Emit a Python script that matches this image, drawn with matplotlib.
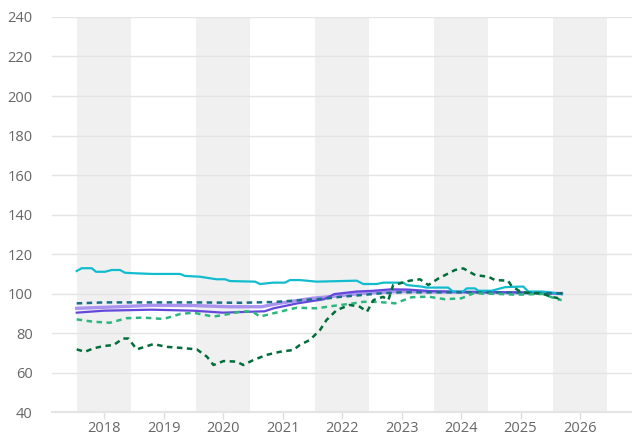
import matplotlib.pyplot as plt

# decimal-year positions and index values
cyan_x = [2017.541, 2017.625, 2017.793, 2017.866, 2018.017, 2018.129, 2018.269, 2018.353,
          2018.55, 2018.824, 2019.277, 2019.361, 2019.613, 2019.782, 2019.894, 2020.034,
          2020.118, 2020.538, 2020.622, 2020.845, 2021.042, 2021.126, 2021.294, 2021.575,
          2022.247, 2022.358, 2022.583, 2022.694, 2023.03, 2023.087, 2023.34, 2023.424,
          2023.782, 2023.866, 2024.034, 2024.096, 2024.235, 2024.291, 2024.516, 2024.739,
          2024.992, 2025.047, 2025.131, 2025.356, 2025.524, 2025.692]
cyan_y = [111.4, 112.8, 112.8, 111.0, 111.0, 111.9, 111.9, 110.5,
          110.2, 109.9, 109.9, 108.9, 108.5, 107.7, 107.2, 107.2,
          106.3, 106.0, 104.8, 105.5, 105.5, 106.8, 106.8, 106.0,
          106.5, 104.8, 104.8, 105.5, 105.5, 104.3, 103.5, 103.0,
          103.0, 101.0, 101.0, 102.6, 102.6, 101.4, 101.4, 103.2,
          103.5, 103.5, 101.0, 101.0, 100.5, 99.6]

purple_x = [2017.541, 2018.0, 2018.8, 2019.5, 2020.0, 2020.5, 2020.7, 2020.85, 2021.25,
            2021.7, 2021.87, 2022.25, 2022.53, 2022.82, 2023.1, 2023.5, 2024.0, 2025.0, 2025.692]
purple_y = [90.3, 91.3, 91.8, 91.3, 90.3, 90.8, 91.0, 92.5, 95.0,
            97.1, 99.7, 101.0, 101.4, 102.1, 102.0, 101.2, 100.8, 100.6, 100.0]

lavender_x = [2017.541, 2018.0, 2018.8, 2019.5, 2020.1, 2020.65, 2020.94, 2021.5, 2021.8,
              2022.35, 2022.95, 2023.5, 2024.5, 2025.692]
lavender_y = [92.5, 93.0, 94.0, 93.9, 93.3, 93.3, 95.0, 97.6, 98.4,
              100.1, 101.0, 100.8, 100.5, 100.0]

teal_x = [2017.541, 2018.0, 2019.5, 2020.3, 2020.85, 2021.3, 2021.75, 2021.97, 2022.25,
          2022.65, 2023.0, 2024.0, 2025.0, 2025.692]
teal_y = [95.0, 95.5, 95.5, 95.3, 95.7, 96.6, 97.5, 98.3, 99.0,
          100.1, 100.6, 100.6, 100.4, 100.0]

lgreen_x = [2017.541, 2017.82, 2018.10, 2018.38, 2018.66, 2019.0, 2019.28, 2019.50, 2019.84,
            2020.17, 2020.31, 2020.50, 2020.62, 2020.85, 2021.07, 2021.24, 2021.57, 2021.85,
            2022.19, 2022.36, 2022.53, 2022.81, 2022.89, 2023.17, 2023.45, 2023.73, 2024.01,
            2024.21, 2024.60, 2024.94, 2025.38, 2025.61, 2025.692]
lgreen_y = [86.9, 85.7, 85.2, 87.5, 87.8, 87.1, 89.6, 90.3, 88.3,
            90.0, 91.0, 90.8, 88.3, 90.0, 91.6, 92.8, 92.5, 93.7,
            95.0, 95.8, 95.8, 95.3, 95.0, 98.1, 98.4, 97.1, 97.6,
            100.1, 99.8, 99.4, 99.8, 97.1, 96.7]

dgreen_x = [2017.541, 2017.68, 2017.82, 2017.99, 2018.16, 2018.32, 2018.41, 2018.55, 2018.83,
            2019.05, 2019.28, 2019.56, 2019.73, 2019.84, 2020.01, 2020.23, 2020.34, 2020.51,
            2020.73, 2020.96, 2021.18, 2021.29, 2021.46, 2021.63, 2021.74, 2021.91, 2022.13,
            2022.30, 2022.42, 2022.53, 2022.69, 2022.78, 2022.86, 2022.97, 2023.14, 2023.31,
            2023.45, 2023.62, 2023.90, 2024.04, 2024.24, 2024.46, 2024.57, 2024.79, 2024.85,
            2025.02, 2025.36, 2025.52, 2025.64, 2025.692]
dgreen_y = [71.7, 70.5, 72.2, 73.4, 73.9, 77.2, 77.2, 71.7, 74.4,
            73.0, 72.5, 71.7, 68.0, 63.8, 65.8, 65.5, 63.8, 66.3,
            68.9, 70.5, 71.4, 73.9, 76.5, 81.5, 86.6, 91.6, 94.2,
            93.3, 90.8, 96.7, 98.3, 96.7, 104.3, 105.1, 106.5, 107.2,
            104.3, 107.6, 111.9, 112.7, 109.3, 108.5, 106.8, 106.5, 103.8,
            100.5, 100.0, 98.3, 97.6, 100.5]

years = [2018, 2019, 2020, 2021, 2022, 2023, 2024, 2025, 2026]
shaded_years = [2018, 2020, 2022, 2024, 2026]

plt.rcParams['font.family'] = ['Open Sans', 'DejaVu Sans']

fig = plt.figure(figsize=(6.32, 4.37), dpi=100)
ax = fig.add_axes([0.0823, 0.0572, 0.9177, 0.9039])

for y in shaded_years:
    ax.axvspan(y - 0.46, y + 0.45, color='#f0f0f0', lw=0, zorder=0)

dash = (0, (2.2, 1.8))
ax.plot(lavender_x, lavender_y, color='#ab94ee', lw=2.4, zorder=3)
ax.plot(purple_x, purple_y, color='#6448dc', lw=1.6, zorder=4)
ax.plot(cyan_x, cyan_y, color='#12bccf', lw=1.6, zorder=4)
ax.plot(teal_x, teal_y, color='#17708a', lw=1.8, ls=dash, zorder=5)
ax.plot(lgreen_x, lgreen_y, color='#2cb77e', lw=1.8, ls=dash, zorder=5)
ax.plot(dgreen_x, dgreen_y, color='#006e3a', lw=1.8, ls=dash, zorder=5)

ax.set_xlim(2017.126, 2026.874)
ax.set_ylim(40, 240)
ax.set_yticks(range(40, 241, 20))
ax.set_xticks(years)
ax.set_xticklabels([str(y) for y in years])

ax.grid(axis='y', color='#e4e4e4', lw=1)
ax.set_axisbelow(True)
for s in ['top', 'right', 'left']:
    ax.spines[s].set_visible(False)
ax.spines['bottom'].set_color('#e4e4e4')
ax.spines['bottom'].set_linewidth(1.5)
ax.tick_params(axis='y', length=0, pad=14, labelsize=10.5, labelcolor='#666666')
ax.tick_params(axis='x', length=5, color='#dddddd', width=1, pad=1.5, labelsize=10.5,
               labelcolor='#666666')

fig.savefig('out.png', dpi=100)
